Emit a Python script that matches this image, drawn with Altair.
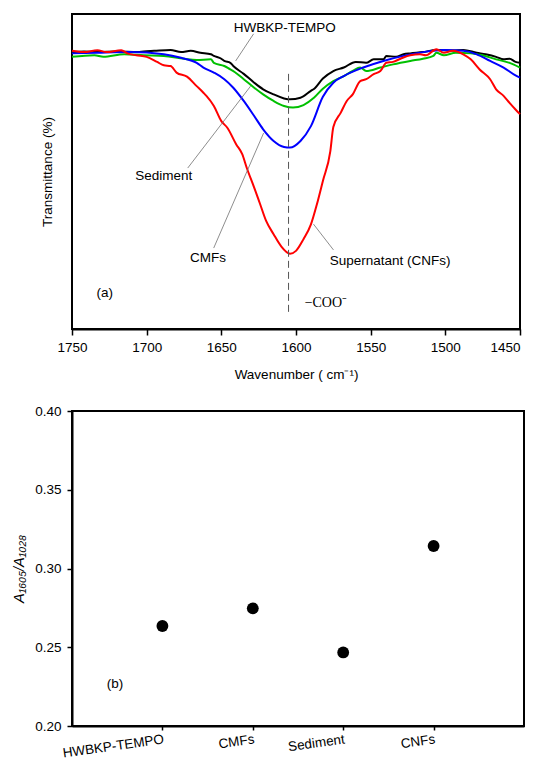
import altair as alt
import pandas as pd

# ---------------- panel (a): FTIR spectra (1750-1450 cm-1) ----------------
black_wn = [1750, 1742, 1733, 1720, 1706, 1702, 1695, 1684, 1677, 1670.5, 1664, 1657, 1655, 1650, 1648,
            1644, 1642, 1635, 1628, 1622, 1615, 1608, 1604, 1597, 1590, 1588, 1582, 1575, 1568, 1560,
            1553, 1548, 1541.5, 1539.5, 1533, 1528, 1523.5, 1515, 1506, 1495, 1488, 1479, 1473, 1466,
            1461, 1457, 1453, 1450]
black_t = [87.9, 88.1, 87.9, 88.1, 87.9, 88.1, 88.3, 88.6, 87.9, 88.3, 87.7, 87.2, 86.7, 85.8, 85.1,
           84.5, 83.5, 81.0, 78.2, 76.1, 74.5, 73.2, 72.9, 73.4, 75.6, 76.2, 79.5, 81.9, 83.0, 84.8,
           84.5, 85.6, 85.6, 86.7, 86.4, 87.2, 87.5, 87.9, 88.6, 88.4, 88.6, 87.7, 87.2, 86.4,
           85.6, 85.8, 84.8, 84.5]

green_wn = [1750, 1735, 1729, 1715, 1702, 1688.5, 1675, 1666.5, 1657, 1655, 1648, 1644, 1642, 1635,
            1628, 1622, 1615, 1608, 1602, 1595, 1588, 1582, 1575, 1568, 1562, 1557, 1553, 1543.5,
            1535, 1523.5, 1515, 1508, 1506, 1501, 1493, 1483, 1475, 1466, 1457, 1450]
green_t = [86.4, 86.9, 86.4, 87.2, 86.9, 86.7, 85.8, 85.4, 85.6, 84.5, 83.5, 82.4, 81.9, 79.3,
           76.6, 74.5, 72.4, 70.8, 70.3, 71.1, 73.4, 76.3, 78.7, 80.3, 81.9, 83.0, 81.9, 83.0,
           84.0, 85.1, 85.8, 86.7, 87.7, 86.9, 87.7, 87.5, 86.9, 85.6, 84.5, 83.0]

blue_wn = [1750, 1733, 1711, 1688.5, 1677, 1666.5, 1662, 1655, 1648, 1642, 1635, 1628, 1622, 1615,
           1608, 1604, 1597, 1590, 1582, 1575, 1568, 1555, 1541.5, 1528, 1515, 1501, 1488, 1479,
           1470, 1461, 1453, 1450]
blue_t = [87.5, 87.7, 87.9, 87.2, 86.1, 84.5, 83.0, 81.4, 79.3, 76.6, 72.4, 67.6, 63.4, 59.7,
          57.8, 57.6, 59.7, 64.4, 73.7, 78.2, 80.3, 83.0, 85.1, 86.7, 87.9, 88.6, 88.3, 87.2,
          85.1, 83.0, 80.5, 79.8]

red_wn = [1750, 1742, 1733, 1727, 1717, 1713, 1707, 1700, 1693, 1688.5, 1684, 1680, 1673, 1666.5,
          1662, 1660, 1655, 1650, 1646, 1640, 1636, 1633, 1628, 1624, 1620, 1615, 1610, 1604, 1600,
          1595, 1590, 1586, 1582, 1577, 1575, 1570, 1566, 1562, 1557, 1553, 1548, 1543.5, 1539.5,
          1535, 1530, 1523.5, 1517, 1513, 1506, 1501, 1495, 1488, 1483, 1477, 1470, 1466, 1461,
          1457, 1453, 1450]
red_t = [88.3, 87.9, 88.5, 87.9, 88.5, 87.5, 86.9, 86.4, 84.8, 83.7, 83.5, 81.4, 80.1, 77.1,
         75.0, 74.0, 70.8, 66.0, 63.9, 58.6, 55.5, 51.2, 44.9, 39.6, 34.3, 30.1, 26.3, 23.9, 24.8,
         28.5, 33.2, 39.6, 47.0, 56.5, 64.1, 68.7, 72.4, 74.5, 78.7, 79.3, 80.9, 81.9, 84.5,
         84.8, 85.8, 86.9, 87.2, 86.9, 88.8, 87.7, 88.3, 87.2, 85.6, 82.4, 79.3, 76.1, 74.0,
         71.8, 69.7, 68.2]

series_names = ["HWBKP-TEMPO", "Sediment", "CMFs", "Supernatant (CNFs)"]
series_colors = ["#000000", "#00c000", "#0000ff", "#ff0000"]

# annotation labels for panel (a)
label_text = ["HWBKP-TEMPO", "Sediment", "CMFs", "Supernatant (CNFs)", "(a)"]
label_wn = [1607.5, 1688.5, 1659, 1537, 1728]
label_t = [95.6, 48.6, 22.5, 21.6, 11.4]

leader_wn1 = [1628.4, 1672.5, 1655.1, 1588.3]
leader_t1 = [93.7, 51.1, 25.7, 33.3]
leader_wn2 = [1640.4, 1630.4, 1621.7, 1574.9]
leader_t2 = [85.1, 77.1, 62.2, 25.1]

peak_wn = 1605
peak_t = [81.0, 5.1]
coo_text = "\u2212COO\u207b"
coo_wn = 1580
coo_t = 8.3

# ---------------- panel (b): absorbance ratio ----------------
categories = ["HWBKP-TEMPO", "CMFs", "Sediment", "CNFs"]
ratio = [0.2635, 0.2747, 0.2467, 0.3143]
y_ticks = [0.20, 0.25, 0.30, 0.35, 0.40]
wn_ticks = [1750, 1700, 1650, 1600, 1550, 1500, 1450]

FONT = "Arial"
FS = 13.5

xscale = alt.Scale(domain=[1750, 1450], nice=False, zero=False)
yscale = alt.Scale(domain=[0, 100], nice=False, zero=False)

xaxis = alt.Axis(values=wn_ticks, format="d", title="Wavenumber ( cm\u207b\u00b9)", grid=False,
                 tickSize=6, labelPadding=5, titlePadding=14, domainWidth=2, tickWidth=1.5,
                 labelFlush=False,
                 labelAlign={"condition": {"test": "datum.value == 1450", "value": "right"},
                             "value": "center"})
yaxis = alt.Axis(title="Transmittance (%)", labels=False, ticks=False, domain=False, grid=False,
                 titlePadding=18)

layers = []
for name, wn, t, col in zip(series_names,
                            [black_wn, green_wn, blue_wn, red_wn],
                            [black_t, green_t, blue_t, red_t],
                            series_colors):
    df = pd.DataFrame({"wn": wn, "t": t, "series": name})
    layers.append(
        alt.Chart(df).mark_line(strokeWidth=2, color=col, interpolate="monotone").encode(
            x=alt.X("wn:Q", scale=xscale, axis=xaxis),
            y=alt.Y("t:Q", scale=yscale, axis=yaxis),
        )
    )

peak_df = pd.DataFrame({"wn": [peak_wn], "t0": [peak_t[0]], "t1": [peak_t[1]]})
peak_rule = alt.Chart(peak_df).mark_rule(color="#555555", strokeWidth=1, strokeDash=[7, 4]).encode(
    x="wn:Q", y="t0:Q", y2="t1:Q")

lead_df = pd.DataFrame({"x1": leader_wn1, "y1": leader_t1, "x2": leader_wn2, "y2": leader_t2})
leaders = alt.Chart(lead_df).mark_rule(color="#707070", strokeWidth=0.8).encode(
    x="x1:Q", y="y1:Q", x2="x2:Q", y2="y2:Q")

lab_df = pd.DataFrame({"wn": label_wn, "t": label_t, "txt": label_text})
labels = alt.Chart(lab_df).mark_text(font=FONT, fontSize=FS, color="black", align="center",
                                     baseline="middle").encode(x="wn:Q", y="t:Q", text="txt:N")

coo_df = pd.DataFrame({"wn": [coo_wn], "t": [coo_t], "txt": [coo_text]})
coo = alt.Chart(coo_df).mark_text(font="Times New Roman", fontSize=14, color="black",
                                  align="center", baseline="middle").encode(
    x="wn:Q", y="t:Q", text="txt:N")

top = alt.layer(*layers, peak_rule, leaders, labels, coo).properties(width=448, height=315)

# panel (b)
pts_df = pd.DataFrame({"cat": categories, "ratio": ratio})
points = alt.Chart(pts_df).mark_circle(size=140, color="black", opacity=1).encode(
    x=alt.X("cat:N", sort=categories, scale=alt.Scale(type="point", padding=1),
            axis=alt.Axis(title=None, labelAngle=352, tickSize=4, labelPadding=2,
                          domainWidth=2, tickWidth=1.5, grid=False)),
    y=alt.Y("ratio:Q", scale=alt.Scale(domain=[0.2, 0.4], nice=False, zero=False),
            axis=alt.Axis(values=y_ticks, format=".2f", title="A\u2081\u2086\u2080\u2085/A\u2081\u2080\u2082\u2088",
                          titleFontStyle="italic", titleFontSize=14.5, tickSize=5, labelPadding=6,
                          titlePadding=8, domainWidth=2, tickWidth=1.5, grid=False)),
)
b_df = pd.DataFrame({"ratio": [0.2265], "txt": ["(b)"]})
b_label = alt.Chart(b_df).mark_text(font=FONT, fontSize=FS, color="black", align="center",
                                    baseline="middle").encode(
    x=alt.value(43), y=alt.Y("ratio:Q"), text="txt:N")

bottom = alt.layer(points, b_label).properties(width=452, height=315)

chart = alt.vconcat(top, bottom, spacing=21).properties(
    padding={"left": 2, "top": 5, "right": 0, "bottom": 0}
).configure_view(
    stroke="black", strokeWidth=2
).configure_axis(
    labelFont=FONT, titleFont=FONT, labelFontSize=FS, titleFontSize=FS,
    labelColor="black", titleColor="black", titleFontWeight="normal",
    domainColor="black", tickColor="black"
)

chart.save("out.html", embed_options={"renderer": "svg", "actions": False})
